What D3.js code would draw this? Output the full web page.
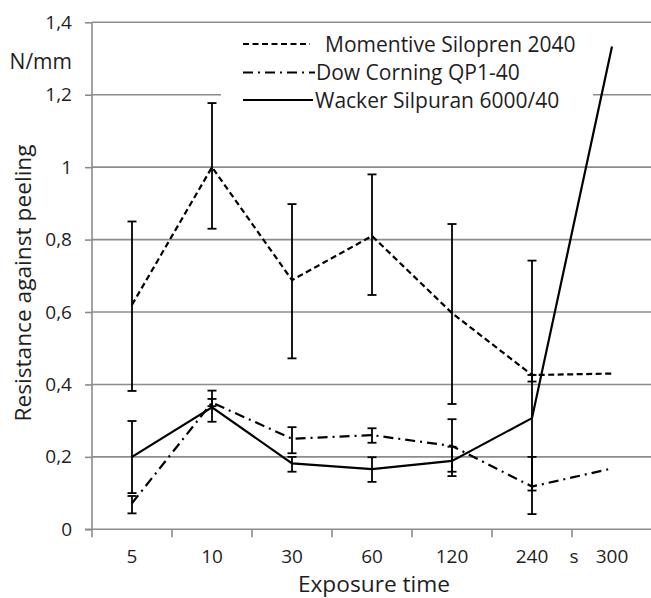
<!DOCTYPE html>
<html>
<head>
<meta charset="utf-8">
<script src="https://cdn.jsdelivr.net/npm/d3@7"></script>
<style>
	body { margin: 0; background: #fff; }
	svg { display: block; font-family: "Open Sans", sans-serif; }
</style>
</head>
<body>
<svg id="chart" width="651" height="598"></svg>
<script>
(function(){

	// exposure times (s)
	const categories = ["5", "10", "30", "60", "120", "240", "300"];
	const yTicks = [0, 0.2, 0.4, 0.6, 0.8, 1, 1.2, 1.4];

	// mean values, N/mm
	const momentive = [0.62, 1.0, 0.688, 0.81, 0.597, 0.426, 0.43];
	const dowCorning = [0.072, 0.35, 0.25, 0.26, 0.23, 0.118, 0.168];
	const wacker = [0.2, 0.337, 0.182, 0.166, 0.189, 0.307, 1.333];

	// error bar ends (upper / lower), null = no bar
	const momentiveHi = [0.85, 1.177, 0.898, 0.98, 0.843, 0.426, null];
	const momentiveLo = [0.382, 0.83, 0.472, 0.647, 0.346, 0.408, null];
	const dowHi = [0.092, 0.36, 0.282, 0.279, 0.304, 0.2, null];
	const dowLo = [0.044, 0.34, 0.21, 0.239, 0.147, 0.042, null];
	const wackerHi = [0.299, 0.383, 0.2, 0.199, 0.228, 0.742, null];
	const wackerLo = [0.1, 0.297, 0.159, 0.131, 0.159, 0.107, null];

	const seriesNames = ["Momentive Silopren 2040", "Dow Corning QP1-40", "Wacker Silpuran 6000/40"];

	const series = [
		{name: seriesNames[0], values: momentive, hi: momentiveHi, lo: momentiveLo, dash: "6,3.5"},
		{name: seriesNames[1], values: dowCorning, hi: dowHi, lo: dowLo, dash: "10,5,2,5"},
		{name: seriesNames[2], values: wacker, hi: wackerHi, lo: wackerLo, dash: null}
	];

	const svg = d3.select("#chart");
	const gridColor = "#8c8c8c";
	const textColor = "#1e1e1e";
	const tickFont = 19;
	const legendFont = 21;
	const titleFont = 22.7;

	const left = 92, right = 652, top = 22.3, bottom = 529.3;

	const x = d3.scaleBand().domain(categories).range([left, right]).padding(0);
	const y = d3.scaleLinear().domain([0, 1.4]).range([bottom, top]);
	const cx = function(i) { return x(categories[i]) + x.bandwidth() / 2; };

	const comma = d3.formatLocale({decimal: ",", thousands: ".", grouping: [3], currency: ["", ""]}).format("");

	// gridlines
	svg.append("g").selectAll("line").data(yTicks.slice(1)).enter().append("line")
		.attr("x1", left).attr("x2", 651)
		.attr("y1", function(d) { return y(d); }).attr("y2", function(d) { return y(d); })
		.attr("stroke", gridColor).attr("stroke-width", 1.6);

	// y axis
	const yAxis = svg.append("g").attr("transform", "translate(" + left + ",0)")
		.call(d3.axisLeft(y).tickValues(yTicks).tickFormat(comma).tickSize(7).tickPadding(13));
	yAxis.select(".domain").remove();
	yAxis.append("line").attr("x1", 0).attr("x2", 0).attr("y1", top).attr("y2", bottom)
		.attr("stroke", gridColor).attr("stroke-width", 1.6);
	yAxis.selectAll(".tick line").attr("stroke", gridColor).attr("stroke-width", 1.6);
	yAxis.selectAll(".tick text").attr("fill", textColor).style("font-size", tickFont + "px")
		.style("font-family", "'Open Sans', sans-serif");

	// x axis: ticks at band edges, labels at centers
	const xAxis = svg.append("g");
	xAxis.append("line").attr("x1", left - 7).attr("x2", 651).attr("y1", bottom).attr("y2", bottom)
		.attr("stroke", gridColor).attr("stroke-width", 1.6);
	xAxis.selectAll("line.tk").data(categories).enter().append("line").attr("class", "tk")
		.attr("x1", function(d) { return x(d); }).attr("x2", function(d) { return x(d); })
		.attr("y1", bottom).attr("y2", bottom + 8)
		.attr("stroke", gridColor).attr("stroke-width", 1.6);
	xAxis.selectAll("text").data(categories).enter().append("text")
		.attr("x", function(d) { return x(d) + x.bandwidth() / 2; })
		.attr("y", 563).attr("text-anchor", "middle").attr("fill", textColor)
		.style("font-size", tickFont + "px").text(function(d) { return d; });
	xAxis.append("text").attr("x", x("300") + 2).attr("y", 563).attr("text-anchor", "middle")
		.attr("fill", textColor).style("font-size", tickFont + "px").text("s");

	// axis titles
	svg.append("text").attr("x", 374).attr("y", 592).attr("text-anchor", "middle")
		.attr("fill", textColor).style("font-size", titleFont + "px").text("Exposure time");
	svg.append("text").attr("transform", "translate(31,283) rotate(-90)").attr("text-anchor", "middle")
		.attr("fill", textColor).style("font-size", titleFont + "px").text("Resistance against peeling");
	svg.append("text").attr("x", 72).attr("y", 69).attr("text-anchor", "end")
		.attr("fill", textColor).style("font-size", legendFont + "px").text("N/mm");

	// legend background
	svg.append("rect").attr("x", 221).attr("y", 30).attr("width", 372).attr("height", 86).attr("fill", "#fff");

	// series lines
	const line = d3.line().x(function(d, i) { return cx(i); }).y(function(d) { return y(d); });
	svg.append("g").selectAll("path").data(series).enter().append("path")
		.attr("d", function(s) { return line(s.values); })
		.attr("fill", "none").attr("stroke", "#000").attr("stroke-width", 2.2)
		.attr("stroke-dasharray", function(s) { return s.dash; });

	// error bars
	const bars = [];
	series.forEach(function(s) {
		s.values.forEach(function(v, i) {
			if (s.hi[i] != null) bars.push({i: i, hi: s.hi[i], lo: s.lo[i]});
		});
	});
	const eb = svg.append("g").attr("stroke", "#000").attr("stroke-width", 1.8);
	eb.selectAll("line.v").data(bars).enter().append("line").attr("class", "v")
		.attr("x1", function(d) { return cx(d.i); }).attr("x2", function(d) { return cx(d.i); })
		.attr("y1", function(d) { return y(d.hi); }).attr("y2", function(d) { return y(d.lo); });
	const caps = [];
	bars.forEach(function(b) { caps.push({i: b.i, v: b.hi}); caps.push({i: b.i, v: b.lo}); });
	eb.selectAll("line.c").data(caps).enter().append("line").attr("class", "c")
		.attr("x1", function(d) { return cx(d.i) - 4.5; }).attr("x2", function(d) { return cx(d.i) + 4.5; })
		.attr("y1", function(d) { return y(d.v); }).attr("y2", function(d) { return y(d.v); });

	// legend
	const legendY = [44, 72.5, 100];
	const legendTextX = [325, 316, 315];
	const legendLineEnd = [310, 315, 313];
	const lg = svg.append("g");
	series.forEach(function(s, k) {
		lg.append("line").attr("x1", 243).attr("x2", legendLineEnd[k])
			.attr("y1", legendY[k]).attr("y2", legendY[k])
			.attr("stroke", "#000").attr("stroke-width", 2.2).attr("stroke-dasharray", s.dash);
		lg.append("text").attr("x", legendTextX[k]).attr("y", legendY[k] + 7.5)
			.attr("fill", textColor).style("font-size", legendFont + "px").text(s.name);
	});

}());
</script>
</body>
</html>
